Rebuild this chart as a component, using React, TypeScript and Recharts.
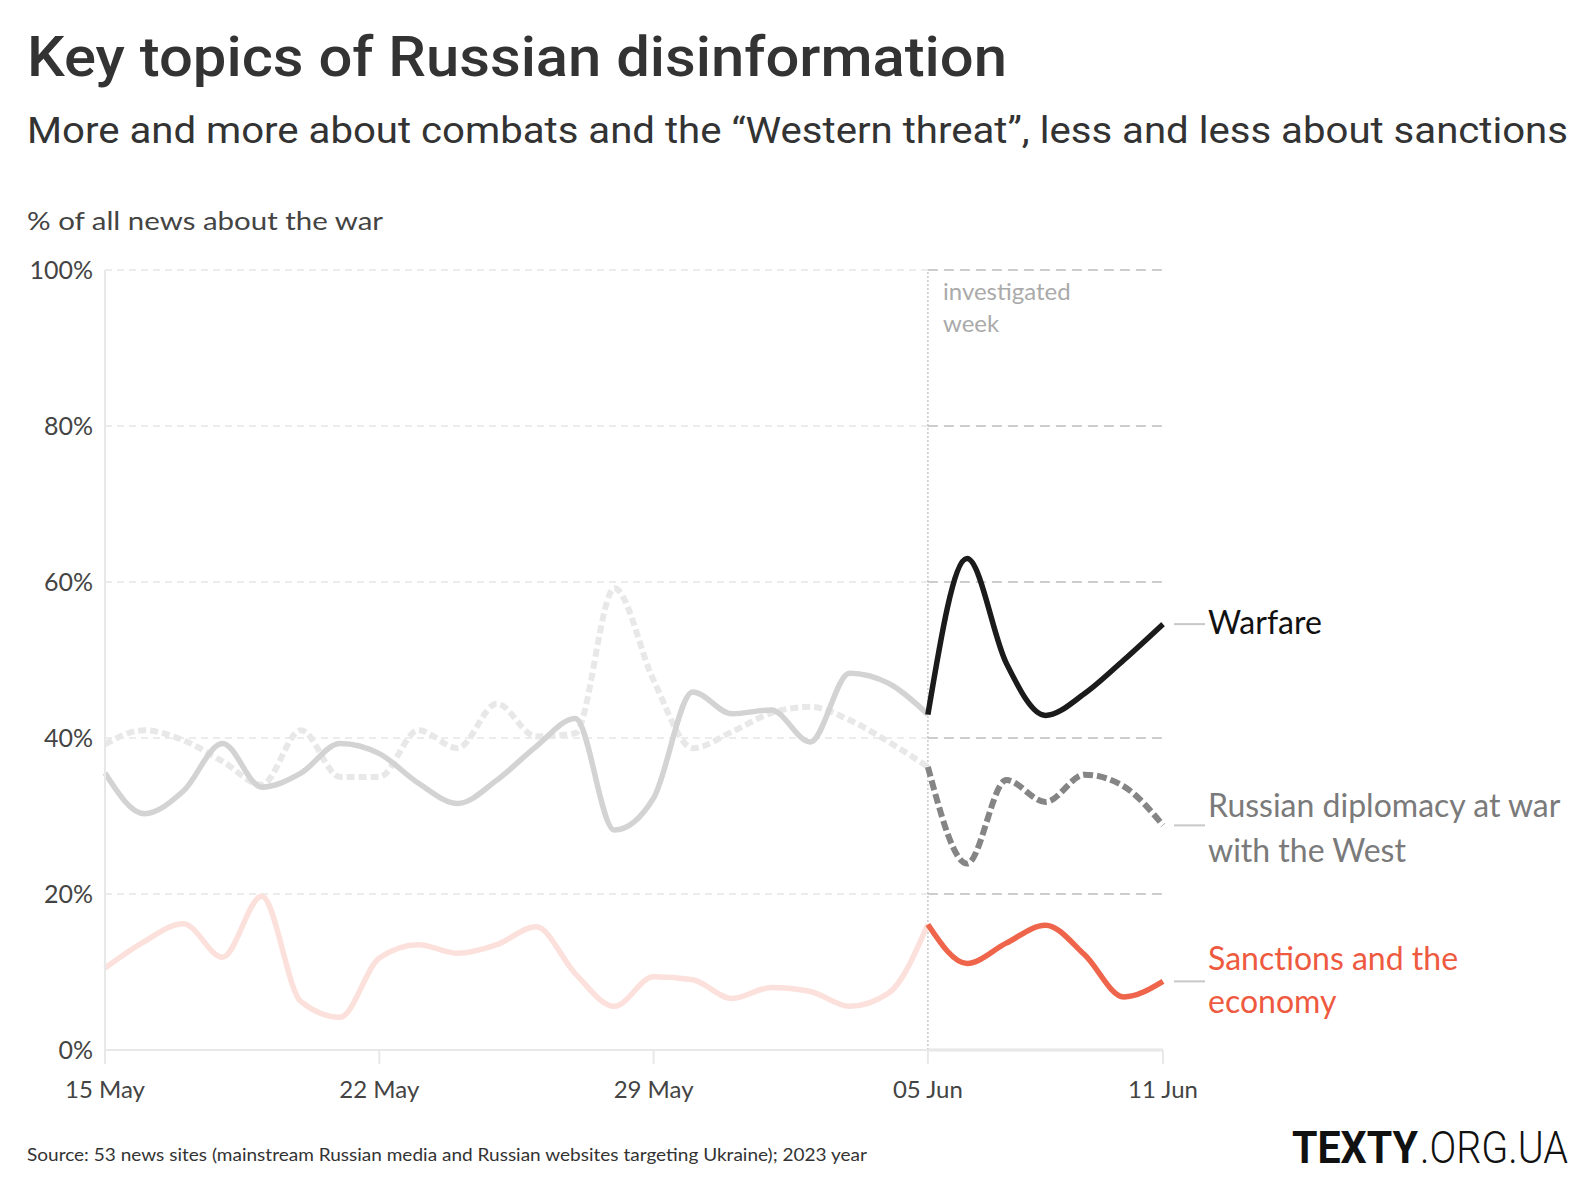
import React from "react";
import { LineChart, Line, XAxis, YAxis, ReferenceLine } from "recharts";

const days = [
  "15 May", "16 May", "17 May", "18 May", "19 May", "20 May", "21 May",
  "22 May", "23 May", "24 May", "25 May", "26 May", "27 May", "28 May",
  "29 May", "30 May", "31 May", "01 Jun", "02 Jun", "03 Jun", "04 Jun",
  "05 Jun", "06 Jun", "07 Jun", "08 Jun", "09 Jun", "10 Jun", "11 Jun",
];

// % of all news about the war, per day
const warfare = [
  35.5, 30.3, 33.2, 39.3, 33.7, 35.5, 39.3, 38.0, 34.2, 31.6, 34.6, 38.9, 42.5, 28.2,
  32.3, 45.9, 43.1, 43.6, 39.5, 48.3, 47.0, 43.0, 63.0, 49.6, 42.9, 45.7, 50.0, 54.6,
];
const diplomacy = [
  39.2, 41.0, 39.7, 37.0, 34.0, 41.0, 35.0, 35.0, 41.0, 38.7, 44.4, 40.2, 40.6, 59.2,
  47.4, 38.7, 40.8, 43.2, 44.0, 42.3, 39.5, 36.3, 23.9, 34.6, 31.8, 35.3, 33.8, 28.8,
];
const sanctions = [
  10.5, 13.9, 16.2, 11.9, 19.7, 6.2, 4.2, 11.8, 13.5, 12.4, 13.5, 15.8, 9.8, 5.6,
  9.4, 9.0, 6.6, 8.0, 7.5, 5.6, 7.3, 16.1, 11.1, 13.7, 16.0, 12.2, 6.8, 8.8,
];

const weekStart = 21;
const xTicks = [0, 7, 14, 21, 27];
const yTicks = [0, 20, 40, 60, 80, 100];
const gridLevels = [20, 40, 60, 80, 100];

const rows = days.map((day, i) => ({
  i,
  day,
  warfareBefore: i <= weekStart ? warfare[i] : null,
  warfareWeek: i >= weekStart ? warfare[i] : null,
  diplomacyBefore: i <= weekStart ? diplomacy[i] : null,
  diplomacyWeek: i >= weekStart ? diplomacy[i] : null,
  sanctionsBefore: i <= weekStart ? sanctions[i] : null,
  sanctionsWeek: i >= weekStart ? sanctions[i] : null,
}));

const lastIndex = days.length - 1;
const SANS = "Lato, 'Noto Sans', sans-serif";

function endLabel(lines: string[], color: string, offsets: number[]) {
  return (props: any) => {
    const { x, y, index } = props;
    if (index !== lastIndex || x == null || y == null) return <g />;
    return (
      <g>
        <line x1={x + 11} x2={x + 42} y1={y} y2={y} stroke="#c8c8c8" strokeWidth={2} />
        {lines.map((t, k) => (
          <text
            key={k}
            x={x + 45}
            y={y + offsets[k]}
            fill={color}
            fontSize={32}
            fontFamily={SANS}
          >
            {t}
          </text>
        ))}
      </g>
    );
  };
}

export default function App() {
  return (
    <div style={{ position: "absolute", left: 0, top: 0, width: 1588, height: 1194, background: "#fff" }}>
      <LineChart
        width={1588}
        height={1194}
        data={rows}
        margin={{ top: 270, right: 425, bottom: 104, left: 15 }}
      >
        {gridLevels.map((v) => (
          <ReferenceLine
            key={"g" + v}
            segment={[{ x: 0, y: v }, { x: weekStart, y: v }]}
            stroke="#e6e6e6"
            strokeWidth={1.5}
            strokeDasharray="7 5"
          />
        ))}
        {gridLevels.map((v) => (
          <ReferenceLine
            key={"w" + v}
            segment={[{ x: weekStart, y: v }, { x: lastIndex, y: v }]}
            stroke="#bdbdbd"
            strokeWidth={1.5}
            strokeDasharray="10 6"
          />
        ))}
        <ReferenceLine
          segment={[{ x: weekStart, y: 0 }, { x: lastIndex, y: 0 }]}
          stroke="#e6e6e6"
          strokeWidth={3}
        />
        <ReferenceLine x={weekStart} stroke="#c8c8c8" strokeWidth={1.5} strokeDasharray="2 2" />
        <XAxis
          dataKey="i"
          type="number"
          domain={[0, lastIndex]}
          ticks={xTicks}
          tickFormatter={(i: number) => days[i]}
          height={40}
          stroke="#e8e8e8"
          strokeWidth={2}
          tickSize={14}
          tickMargin={17}
          tick={{ fill: "#444", fontSize: 24, fontFamily: SANS }}
          interval={0}
        />
        <YAxis
          domain={[0, 100]}
          ticks={yTicks}
          tickFormatter={(v: number) => v + "%"}
          width={90}
          stroke="#e8e8e8"
          strokeWidth={2}
          tickLine={false}
          tickSize={0}
          tickMargin={12}
          tick={{ fill: "#444", fontSize: 25, fontFamily: SANS }}
          interval={0}
        />
        <Line
          type="monotone"
          dataKey="sanctionsBefore"
          stroke="#fbe0db"
          strokeWidth={5.5}
          dot={false}
          activeDot={false}
          isAnimationActive={false}
        />
        <Line
          type="monotone"
          dataKey="diplomacyBefore"
          stroke="#e8e8e8"
          strokeWidth={6}
          strokeDasharray="8 4"
          dot={false}
          activeDot={false}
          isAnimationActive={false}
        />
        <Line
          type="monotone"
          dataKey="warfareBefore"
          stroke="#d3d3d3"
          strokeWidth={5.5}
          dot={false}
          activeDot={false}
          isAnimationActive={false}
        />
        <Line
          type="monotone"
          dataKey="sanctionsWeek"
          stroke="#ee654c"
          strokeWidth={5.5}
          dot={false}
          activeDot={false}
          isAnimationActive={false}
          label={endLabel(["Sanctions and the", "economy"], "#ee5a40", [-11, 32])}
        />
        <Line
          type="monotone"
          dataKey="diplomacyWeek"
          stroke="#858585"
          strokeWidth={6}
          strokeDasharray="10 4"
          dot={false}
          activeDot={false}
          isAnimationActive={false}
          label={endLabel(["Russian diplomacy at war", "with the West"], "#7a7a7a", [-8, 37])}
        />
        <Line
          type="monotone"
          dataKey="warfareWeek"
          stroke="#1b1b1b"
          strokeWidth={5.5}
          dot={false}
          activeDot={false}
          isAnimationActive={false}
          label={endLabel(["Warfare"], "#111", [10])}
        />
      </LineChart>
      <svg
        width={1588}
        height={1194}
        style={{ position: "absolute", left: 0, top: 0, pointerEvents: "none" }}
      >
        <text x={27} y={76} fontSize={56} fontWeight={500} fontFamily="Roboto, sans-serif" fill="#333"
          textLength={980} lengthAdjust="spacingAndGlyphs">
          Key topics of Russian disinformation
        </text>
        <text x={27} y={143} fontSize={36} fontFamily="Roboto, sans-serif" fill="#333"
          textLength={1541} lengthAdjust="spacingAndGlyphs">
          More and more about combats and the “Western threat”, less and less about sanctions
        </text>
        <text x={27} y={230} fontSize={25} fontFamily={SANS} fill="#444"
          textLength={356} lengthAdjust="spacingAndGlyphs">
          % of all news about the war
        </text>
        <text x={943} y={300} fontSize={24} fontFamily={SANS} fill="#aaa">investigated</text>
        <text x={943} y={332} fontSize={24} fontFamily={SANS} fill="#aaa">week</text>
        <text x={27} y={1161} fontSize={17} fontFamily={SANS} fill="#333"
          textLength={840} lengthAdjust="spacingAndGlyphs">
          Source: 53 news sites (mainstream Russian media and Russian websites targeting Ukraine); 2023 year
        </text>
        <text x={1292} y={1163} fontSize={45} fontWeight={700} fontFamily="Roboto, sans-serif" fill="#111"
          textLength={126} lengthAdjust="spacingAndGlyphs">
          TEXTY
        </text>
        <text x={1420} y={1163} fontSize={45} fontWeight={300} fontFamily="Roboto, sans-serif" fill="#111"
          textLength={148} lengthAdjust="spacingAndGlyphs">
          .ORG.UA
        </text>
      </svg>
    </div>
  );
}
